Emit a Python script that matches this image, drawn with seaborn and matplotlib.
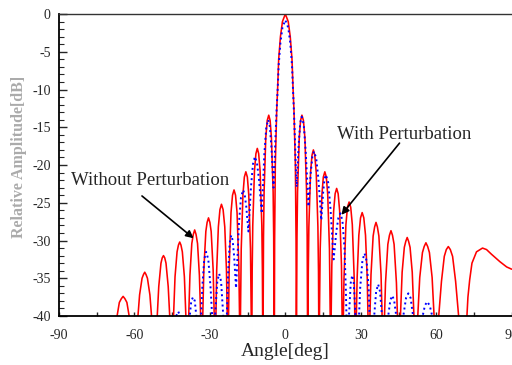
import pandas as pd
import seaborn as sns
import matplotlib.pyplot as plt
from matplotlib.ticker import MultipleLocator

# pattern without perturbation (red), read lobe by lobe, nulls pushed below -40
red_deg = [
    -70.4, -66.9, -66.0, -65.2, -64.5, -63.8, -63.0, -62.1, -60.0,
    -58.6, -57.95, -56.97, -56.4, -55.9, -55.4, -54.83, -53.85, -53.2, -51.8,
    -50.93, -50.33, -49.45, -48.95, -48.45, -47.95, -47.45, -46.57, -45.97, -45.1,
    -44.45, -43.86, -43.05, -42.5, -42.0, -41.5, -40.95, -40.14, -39.55, -38.9,
    -38.42, -37.93, -37.19, -36.6, -36.05, -35.5, -34.91, -34.17, -33.68, -33.2,
    -32.83, -32.41, -31.61, -31.1, -30.55, -30.0, -29.49, -28.7, -28.27, -27.9,
    -27.6, -27.29, -26.63, -26.0, -25.4, -24.75, -24.08, -23.41, -23.1, -22.8,
    -22.58, -22.32, -21.6, -21.0, -20.4, -19.8, -19.2, -18.48, -18.22, -18.0,
    -17.84, -17.54, -16.85, -16.3, -15.7, -15.1, -14.55, -13.86, -13.56, -13.4,
    -13.29, -13.18, -12.95, -12.28, -11.7, -11.15, -10.6, -10.03, -9.35, -9.13, -9.01, -8.9,
    -8.83, -8.68, -8.45, -7.78, -7.2, -6.6, -6.05, -5.53, -4.85, -4.63, -4.47, -4.4,
    -4.35, -4.26, -3.99, -3.43, -3.08, -2.65, -1.95, -1.15, 0.0,
    1.15, 1.95, 2.65, 3.08, 3.43, 3.99, 4.26, 4.35, 4.4,
    4.47, 4.63, 4.85, 5.53, 6.05, 6.6, 7.2, 7.78, 8.45, 8.68, 8.83, 8.9,
    9.01, 9.13, 9.35, 10.03, 10.6, 11.15, 11.7, 12.28, 12.95, 13.18, 13.29, 13.4,
    13.56, 13.86, 14.55, 15.1, 15.7, 16.3, 16.85, 17.54, 17.84, 18.0,
    18.22, 18.48, 19.2, 19.8, 20.4, 21.0, 21.6, 22.32, 22.58, 22.8,
    23.08, 23.31, 24.08, 24.7, 25.35, 26.0, 26.63, 27.39, 27.62, 27.9,
    28.24, 28.54, 29.22, 29.9, 30.55, 31.2, 31.88, 32.56, 32.86, 33.2,
    33.63, 34.06, 34.91, 35.5, 36.05, 36.6, 37.19, 38.05, 38.47, 38.9,
    39.43, 39.83, 40.76, 41.4, 42.0, 42.6, 43.24, 44.17, 44.57, 45.1,
    45.77, 46.44, 47.31, 47.9, 48.45, 49.0, 49.59, 50.46, 51.13, 51.8,
    52.66, 53.44, 54.51, 55.2, 55.9, 56.6, 57.29, 58.36, 59.14, 60.0,
    60.99, 62.08, 63.2, 64.0, 64.8, 65.6, 66.5, 67.7, 68.9, 70.4,
    72.2, 72.6, 73.3, 74.2, 76.0, 78.4, 80.0, 81.9, 85.3, 88.0, 90.0,
]
red_db = [
    -48, -40, -38.2, -37.7, -37.4, -37.7, -38.2, -40, -48,
    -40, -37.2, -35.0, -34.5, -34.2, -34.5, -35.0, -37.2, -40, -48,
    -40, -36.1, -33.0, -32.3, -32.0, -32.3, -33.0, -36.1, -40, -48,
    -40, -34.8, -31.5, -30.6, -30.2, -30.6, -31.5, -34.8, -40, -48,
    -40, -34.6, -30.4, -29.2, -28.6, -29.2, -30.4, -34.6, -40, -48,
    -40, -33.9, -28.8, -27.6, -27.0, -27.6, -28.8, -33.9, -40, -48,
    -40, -33.9, -28.2, -25.9, -25.2, -25.9, -28.2, -33.9, -40, -48,
    -40, -33.5, -26.3, -24.0, -23.3, -24.0, -26.3, -33.5, -40, -48,
    -40, -31.1, -23.9, -21.6, -20.9, -21.6, -23.9, -31.1, -40, -48,
    -40, -33.9, -28.0, -20.8, -18.5, -17.8, -18.5, -20.8, -28.0, -33.9, -40, -48,
    -40, -29.5, -23.6, -16.4, -14.1, -13.4, -14.1, -16.4, -23.6, -29.5, -40, -48,
    -40, -30, -20, -12.7, -10, -6, -3, -1, 0,
    -1, -3, -6, -10, -12.7, -20, -30, -40, -48,
    -40, -29.5, -23.6, -16.4, -14.1, -13.4, -14.1, -16.4, -23.6, -29.5, -40, -48,
    -40, -34.1, -28.2, -21.0, -18.7, -18.0, -18.7, -21.0, -28.2, -34.1, -40, -48,
    -40, -31.1, -23.9, -21.6, -20.9, -21.6, -23.9, -31.1, -40, -48,
    -40, -33.3, -26.1, -23.8, -23.1, -23.8, -26.1, -33.3, -40, -48,
    -40, -35.1, -27.9, -25.6, -24.9, -25.6, -27.9, -35.1, -40, -48,
    -40, -35.0, -29.3, -27.0, -26.3, -27.0, -29.3, -35.0, -40, -48,
    -40, -34.5, -29.4, -28.2, -27.6, -28.2, -29.4, -34.5, -40, -48,
    -40, -35.6, -30.5, -29.3, -28.7, -29.3, -30.5, -35.6, -40, -48,
    -40, -34.2, -30.9, -30.1, -29.6, -30.1, -30.9, -34.2, -40, -48,
    -40, -34.9, -31.6, -30.8, -30.3, -30.8, -31.6, -34.9, -40, -48,
    -40, -35.4, -32.1, -31.2, -30.8, -31.2, -32.1, -35.4, -40, -48,
    -40, -37.5, -35.2, -33.0, -31.5, -31.0, -31.2, -31.8, -32.8, -33.5, -33.8,
]

# pattern with perturbation (blue dotted)
blue_deg = [
    -43.4, -42.6, -41.8, -39.5,
    -38.0, -37.4, -36.7, -36.0, -35.4, -34.0,
    -33.5, -33.0, -32.25, -31.5, -30.63, -29.76, -29.1, -28.6,
    -27.92, -27.05, -26.3, -25.55, -24.68, -23.6,
    -23.26, -22.7, -22.1, -21.5, -20.93, -20.36, -19.98, -19.6,
    -19.04, -18.48, -17.64, -16.8, -16.17, -15.54, -15.12, -14.7,
    -14.18, -13.66, -12.88, -12.1, -11.29, -10.48, -9.94, -9.4,
    -8.88, -8.36, -7.58, -6.8, -6.17, -5.54, -5.12, -4.7,
    -4.3, -4.0, -3.45, -3.1, -2.65, -1.95, -1.15, 0.0,
    1.15, 1.95, 2.65, 3.1, 3.45, 3.8, 4.1, 4.5,
    4.9, 5.3, 5.9, 6.5, 7.3, 8.1, 8.65, 9.2,
    9.64, 10.08, 10.74, 11.4, 12.27, 13.14, 13.72, 14.3,
    14.66, 15.02, 15.56, 16.1, 17.03, 17.96, 18.58, 19.2,
    19.74, 20.28, 21.09, 21.9, 22.71, 23.52, 24.06, 24.3, 24.6,
    25.3, 26.0, 26.6, 27.2, 27.9, 28.6,
    29.3, 29.76, 30.63, 31.5, 32.31, 33.12, 33.5, 34.2,
    35.33, 36.09, 36.9, 37.68, 38.41, 39.5,
    40.9, 41.75, 42.5, 43.25, 44.1, 45.5,
    46.9, 48.0, 48.9, 49.8, 50.8, 52.5,
    54.6, 55.5, 56.4, 57.4, 58.4,
]
blue_db = [
    -40, -39.4, -40, -48,
    -40, -38.0, -37.5, -38.0, -40, -48,
    -40, -36.1, -32.5, -31.5, -32.5, -36.1, -40, -48,
    -40, -35.4, -34.4, -35.4, -40, -48,
    -40, -33.9, -30.3, -29.3, -30.0, -32.1, -34.2, -36.3,
    -32.4, -27.9, -24.3, -23.3, -23.9, -25.5, -27.2, -28.8,
    -25.8, -22.9, -19.9, -18.9, -19.7, -21.9, -24.2, -26.4,
    -22.7, -18.6, -15.0, -14.0, -14.9, -17.6, -20.3, -23.0,
    -20.2, -16.8, -12.6, -10.3, -6.8, -3.8, -1.8, -0.8,
    -1.8, -3.8, -6.8, -10.3, -13.2, -16.5, -19.8, -22.9,
    -20.1, -17.3, -14.5, -13.6, -14.6, -18.2, -21.9, -25.5,
    -23.3, -21.1, -18.9, -18.2, -19.1, -21.8, -24.6, -27.3,
    -25.5, -23.7, -21.9, -21.3, -22.3, -25.8, -29.1, -32.5,
    -30.7, -28.8, -27.0, -26.4, -27.4, -31.0, -36.6, -40, -48,
    -40, -35.6, -34.6, -35.6, -40, -48,
    -40, -36.3, -32.7, -31.7, -32.7, -36.3, -40, -48,
    -40, -36.8, -35.8, -36.8, -40, -48,
    -40, -37.9, -37.3, -37.9, -40, -48,
    -40, -37.6, -37.0, -37.6, -40, -48,
    -40, -38.6, -38.1, -38.6, -40,
]

x_ticks = [-90, -60, -30, 0, 30, 60, 90]
y_ticks = [0, -5, -10, -15, -20, -25, -30, -35, -40]

red = pd.DataFrame({'Angle': red_deg, 'dB': red_db})
blue = pd.DataFrame({'Angle': blue_deg, 'dB': blue_db})

sns.set_style("ticks")
plt.rcParams['font.family'] = ['Liberation Serif', 'DejaVu Serif']
plt.rcParams['axes.unicode_minus'] = False

fig = plt.figure(figsize=(5.12, 3.65), dpi=100)
ax = fig.add_axes([0.1152, 0.1342, 0.8842, 0.8274])

sns.lineplot(data=red, x='Angle', y='dB', sort=False, estimator=None,
             color='#ff0000', linewidth=1.15, ax=ax)
sns.lineplot(data=blue, x='Angle', y='dB', sort=False, estimator=None,
             color='#0000ff', linewidth=1.4, linestyle=':', ax=ax)

ax.set_xlim(-90, 90)
ax.set_ylim(-40, 0)
ax.set_xticks(x_ticks)
ax.set_yticks(y_ticks)
ax.xaxis.set_minor_locator(MultipleLocator(15))
ax.yaxis.set_minor_locator(MultipleLocator(1))
ax.tick_params(axis='x', which='both', direction='in', length=3, width=1,
               labelsize=10, pad=9, top=False)
ax.tick_params(axis='y', which='major', direction='in', length=6, width=1,
               labelsize=10, pad=6, right=False)
ax.tick_params(axis='y', which='minor', direction='in', length=3.5, width=0.8,
               right=False)

for side in ['left', 'bottom']:
    ax.spines[side].set_linewidth(1.3)
    ax.spines[side].set_color('black')
ax.spines['top'].set_linewidth(1.0)
ax.spines['top'].set_color('#333333')
ax.spines['right'].set_visible(False)

ax.set_xlabel('Angle[deg]', fontsize=14)
ax.xaxis.set_label_coords(0.5, -0.089)
ax.set_ylabel('Relative Amplitude[dB]', fontsize=11.5, color='#ababab',
              fontweight='bold')
ax.yaxis.set_label_coords(-0.071, 0.527)

ax.annotate('', xy=(-36.5, -29.7), xytext=(-57.0, -24.1),
            arrowprops=dict(arrowstyle='-|>', color='black', lw=1.2,
                            mutation_scale=11, shrinkA=0, shrinkB=0))
ax.text(-53.8, -22.6, 'Without Perturbation', fontsize=13.5, ha='center',
        va='baseline')
ax.annotate('', xy=(22.3, -26.6), xytext=(45.4, -17.1),
            arrowprops=dict(arrowstyle='-|>', color='black', lw=1.2,
                            mutation_scale=11, shrinkA=0, shrinkB=0))
ax.text(47.4, -16.6, 'With Perturbation', fontsize=13.5, ha='center',
        va='baseline')

plt.savefig('out.png', dpi=100)
